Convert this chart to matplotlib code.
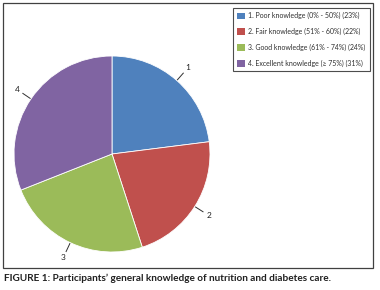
import numpy as np
import matplotlib
matplotlib.use('Agg')
import matplotlib.pyplot as plt
from matplotlib.patches import Rectangle, Patch

plt.rcParams['font.family'] = ['Lato', 'DejaVu Sans']

# 数据
categories = ['1. Poor knowledge (0% - 50%) (23%)',
              '2. Fair knowledge (51% - 60%) (22%)',
              '3. Good knowledge (61% - 74%) (24%)',
              '4. Excellent knowledge (\u2265 75%) (31%)']
values = [23, 22, 24, 31]
slice_labels = ['1', '2', '3', '4']
colors = ['#4F81BD', '#C0504D', '#9BBB59', '#8064A2']
caption = 'FIGURE 1: Participants\u2019 general knowledge of nutrition and diabetes care.'

W, H = 380, 290
fig = plt.figure(figsize=(W / 100, H / 100), dpi=100)

# 外框
fig.add_artist(Rectangle((3 / W, 1 - 268 / H), 370 / W, 265 / H,
                         transform=fig.transFigure, fill=False,
                         edgecolor='#404040', linewidth=0.9))

# 饼图
cx, cy, r = 112, 154, 98
ax = fig.add_axes([(cx - r) / W, 1 - (cy + r) / H, 2 * r / W, 2 * r / H])
wedges, _ = ax.pie(values, colors=colors, startangle=90, counterclock=False,
                   wedgeprops=dict(linewidth=0.6, edgecolor='white'))
ax.set_xlim(-1, 1)
ax.set_ylim(-1, 1)
ax.set_aspect('equal')
ax.axis('off')

# 引线和标签
for w, lab in zip(wedges, slice_labels):
    ang = np.deg2rad((w.theta1 + w.theta2) / 2)
    c, s = np.cos(ang), np.sin(ang)
    ax.plot([1.01 * c, 1.1 * c], [1.01 * s, 1.1 * s], color='#303030',
            linewidth=0.7, clip_on=False)
    ax.text(1.17 * c, 1.17 * s, lab, ha='center', va='center',
            fontsize=6, color='#202020')

# 图例
handles = [Patch(facecolor=c, edgecolor='none') for c in colors]
leg = fig.legend(handles, categories, loc='upper left',
                 bbox_to_anchor=(233 / W, 1 - 8 / H), fontsize=5.0,
                 frameon=True, fancybox=False, handlelength=1.1,
                 handleheight=1.1, handletextpad=0.5, labelspacing=1.25,
                 borderpad=0.6, borderaxespad=0)
leg.get_frame().set_edgecolor('#202020')
leg.get_frame().set_linewidth(0.8)
for t in leg.get_texts():
    t.set_color('#303030')

# 标题
fig.text(4 / W, 1 - 278 / H, caption, ha='left', va='center',
         fontsize=7.2, fontweight='bold', color='#202020')

fig.savefig('out.png', dpi=100)
